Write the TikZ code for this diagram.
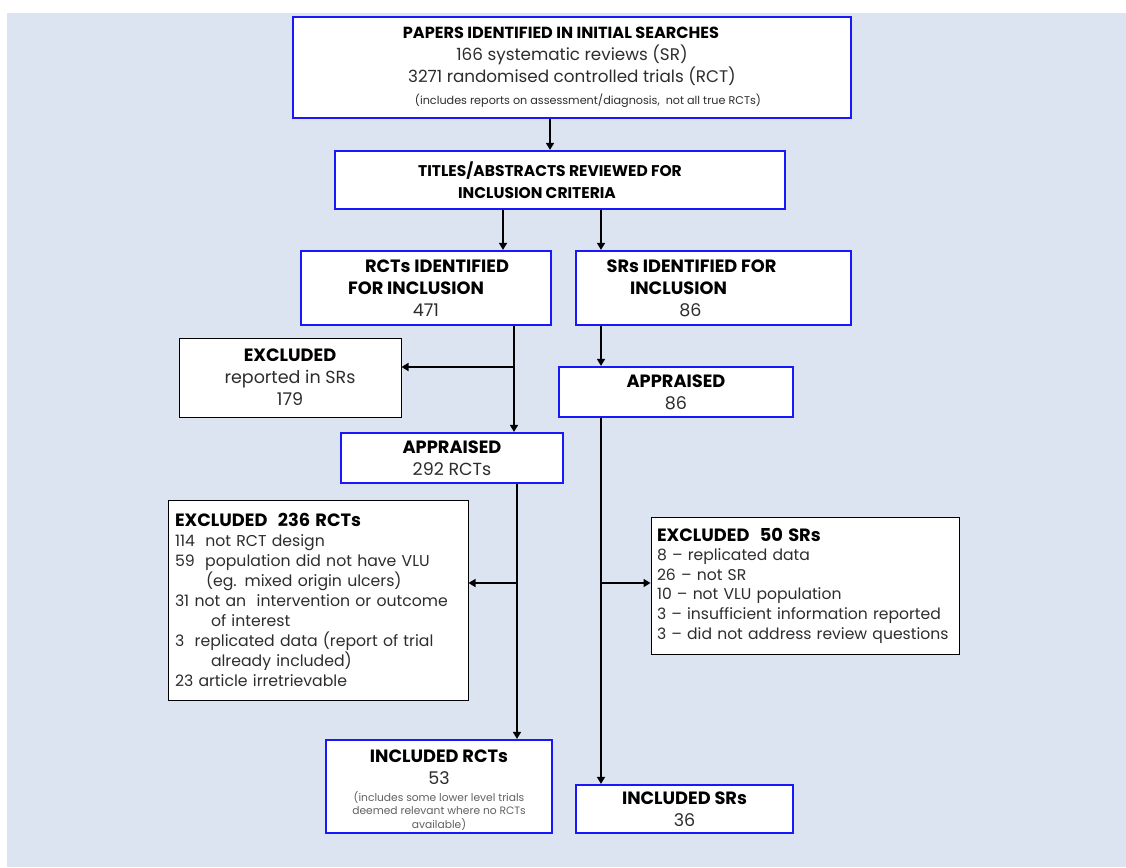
\documentclass[tikz,border=0pt]{standalone}
\usepackage{fontspec}
\setmainfont{Poppins}
\usetikzlibrary{arrows.meta}
\definecolor{bgcol}{RGB}{219,228,240}
\definecolor{bblue}{RGB}{24,24,250}
\definecolor{txt}{RGB}{45,45,45}
\newcommand{\fsz}[2]{\fontsize{#1}{#2}\selectfont}
\newcommand{\hd}[1]{{\fontsize{17.8}{22}\selectfont\bfseries\color{black}#1}}
\tikzset{
  bbox/.style={draw=bblue, line width=2.2pt, fill=white, inner sep=0pt, align=center, text=txt, font=\fsz{17.5}{22}},
  kbox/.style={draw=black, line width=1pt, fill=white, inner sep=0pt, text=txt, font=\fsz{17.5}{22}},
  arr/.style={line width=1.5pt, -{Triangle[width=8pt,length=7pt]}}
}
\begin{document}
\begin{tikzpicture}[x=1pt,y=-1pt]
\useasboundingbox (0,0) rectangle (1126,867);
\fill[bgcol] (7,13) rectangle (1126,867);

\node[bbox, minimum width=558pt, minimum height=101pt, font=\fsz{16.8}{22}] (top) at (572,67.5)
  {{\fontsize{16.1}{22}\selectfont\bfseries\color{black}PAPERS IDENTIFIED IN INITIAL SEARCHES\hspace*{22pt}}\\166 systematic reviews (SR)\hspace*{48pt}\\3271 randomised controlled trials (RCT)\hspace*{20pt}\\{\fsz{11.2}{22}\hspace*{32pt}(includes reports on assessment/diagnosis,\ \ not all true RCTs)}};

\node[bbox, minimum width=450pt, minimum height=58pt, font=\fsz{15.5}{22}\bfseries, text=black] (titles) at (560,180)
  {TITLES/ABSTRACTS REVIEWED FOR\hspace*{20pt}\\INCLUSION CRITERIA\hspace*{46pt}};

\node[bbox, minimum width=250pt, minimum height=74pt] (rctid) at (426,288)
  {\hd{\hspace*{22pt}RCTs IDENTIFIED}\\\hd{FOR INCLUSION\hspace*{20pt}}\\471};

\node[bbox, minimum width=275pt, minimum height=74pt] (srid) at (713.5,288)
  {\hd{SRs IDENTIFIED FOR\hspace*{44pt}}\\\hd{INCLUSION\hspace*{70pt}}\\86\hspace*{46pt}};

\node[kbox, align=center, minimum width=222pt, minimum height=79pt] (exc179) at (290,377.5)
  {\hd{EXCLUDED}\\reported in SRs\\179};

\node[bbox, minimum width=234pt, minimum height=50pt] (app86) at (676,392)
  {\hd{APPRAISED}\\86};

\node[bbox, minimum width=222pt, minimum height=50pt] (app292) at (452,458)
  {\hd{APPRAISED}\\292 RCTs};

\node[kbox, align=left, minimum width=300pt, minimum height=200pt, text width=286pt, font=\fsz{15.7}{20}] (exc236) at (318,600)
  {\hd{EXCLUDED\ \ 236 RCTs}\\
   114\ \ not RCT design\\
   59\ \ population did not have VLU\\
   \hspace*{31pt}(eg. mixed origin ulcers)\\
   31 not an\ \ intervention or outcome\\
   \hspace*{36pt}of interest\\
   3\ \ replicated data (report of trial\\
   \hspace*{36pt}already included)\\
   23 article irretrievable};

\node[kbox, align=left, minimum width=308pt, minimum height=137pt, text width=296pt, font=\fsz{15.6}{19.6}] (exc50) at (805,585.5)
  {\hd{EXCLUDED\ \ 50 SRs}\\
   8 -- replicated data\\
   26 -- not SR\\
   10 -- not VLU population\\
   3 -- insufficient information reported\\
   3 -- did not address review questions};

\node[bbox, minimum width=226pt, minimum height=93pt] (incrct) at (439,786.5)
  {\hd{\rule{0pt}{22pt}INCLUDED RCTs}\\53\\[-5pt]
   {\fsz{10.7}{13}\color{black!62}\begin{tabular}[t]{@{}c@{}}(includes some lower level trials\\deemed relevant where no RCTs\\available)\end{tabular}}};

\node[bbox, minimum width=217pt, minimum height=48pt] (incsr) at (684.5,809)
  {\hd{INCLUDED SRs}\\36};

% column coordinates
\coordinate (cA) at (550,0);
\coordinate (cB) at (503,0);
\coordinate (cC) at (601,0);
\coordinate (cD) at (514,0);
\coordinate (cE) at (517,0);

\draw[arr] (top.south -| cA) -- (titles.north -| cA);
\draw[arr] (titles.south -| cB) -- (rctid.north -| cB);
\draw[arr] (titles.south -| cC) -- (srid.north -| cC);
\draw[arr] (rctid.south -| cD) -- (app292.north -| cD);
\draw[arr] ([yshift=10.5pt]exc179.east -| cD) -- ([yshift=10.5pt]exc179.east);
\draw[arr] (srid.south -| cC) -- (app86.north -| cC);
\draw[arr] (app86.south -| cC) -- (incsr.north -| cC);
\draw[arr] ([yshift=2.5pt]exc50.west -| cC) -- ([yshift=2.5pt]exc50.west);
\draw[arr] (app292.south -| cE) -- (incrct.north -| cE);
\draw[arr] ([yshift=17pt]exc236.east -| cE) -- ([yshift=17pt]exc236.east);
\end{tikzpicture}
\end{document}
